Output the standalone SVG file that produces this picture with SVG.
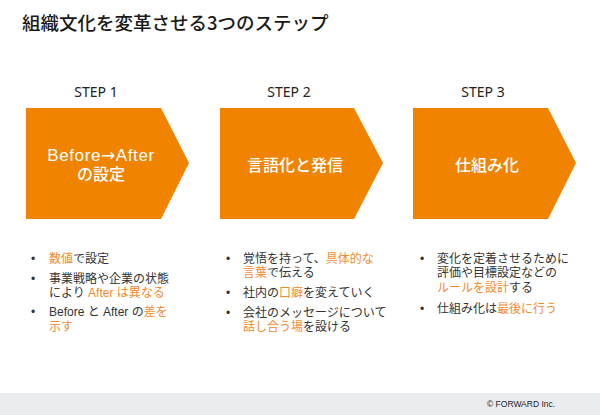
<svg xmlns="http://www.w3.org/2000/svg" width="600" height="415" viewBox="0 0 600 415">
<style>
text{font-family:"Liberation Sans","Noto Sans CJK JP",sans-serif;}
.title{font-size:18.5px;fill:#1a1a1a;font-weight:500;font-family:"Noto Sans CJK JP",sans-serif;}
.step{font-size:14px;fill:#222;text-anchor:middle;font-family:"Noto Sans","Noto Sans CJK JP",sans-serif;}
.arrow{fill:#f08300;}
.label{font-size:16px;fill:#fff;text-anchor:middle;font-weight:500;}
.b{font-size:12px;fill:#333;}
.dot{font-size:12px;fill:#333;}
.o{fill:#f28a2e;}
.foot{font-size:8.5px;fill:#222;}
.ar{font-family:"DejaVu Sans",sans-serif;}
</style>
<rect width="600" height="415" fill="#fff"/>
<text class="title" x="22" y="30">組織文化を変革させる3つのステップ</text>

<g id="step1">
<text class="step" x="96" y="97">STEP 1</text>
<polygon class="arrow" points="26,108 161,108 189,163 161,219 26,219"/>
<text class="label" x="101" y="161" style="font-size:17px;letter-spacing:0.6px">Before<tspan class="ar">→</tspan>After</text>
<text class="label" x="101" y="180">の設定</text>
</g>
<g id="step2">
<text class="step" x="289" y="97">STEP 2</text>
<polygon class="arrow" points="220,108 354,108 383,163 354,219 220,219"/>
<text class="label" x="295" y="171">言語化と発信</text>
</g>
<g id="step3">
<text class="step" x="483" y="97">STEP 3</text>
<polygon class="arrow" points="413,108 548,108 576,163 548,219 413,219"/>
<text class="label" x="487" y="171">仕組み化</text>
</g>

<g id="list1">
<text class="dot" x="31" y="263">•</text>
<text class="b" x="49" y="263"><tspan class="o">数値</tspan>で設定</text>
<text class="dot" x="31" y="283">•</text>
<text class="b" x="49" y="283">事業戦略や企業の状態<tspan x="49" dy="14">により </tspan><tspan class="o">After は異なる</tspan></text>
<text class="dot" x="31" y="316">•</text>
<text class="b" x="49" y="316">Before と After の<tspan class="o">差を</tspan><tspan class="o" x="49" dy="15">示す</tspan></text>
</g>
<g id="list2">
<text class="dot" x="226" y="263">•</text>
<text class="b" x="243" y="263">覚悟を持って、<tspan class="o">具体的な</tspan><tspan class="o" x="243" dy="14">言葉</tspan><tspan>で伝える</tspan></text>
<text class="dot" x="226" y="297">•</text>
<text class="b" x="243" y="297">社内の<tspan class="o">口癖</tspan>を変えていく</text>
<text class="dot" x="226" y="317">•</text>
<text class="b" x="243" y="317">会社のメッセージについて<tspan class="o" x="243" dy="14">話し合う場</tspan><tspan>を設ける</tspan></text>
</g>
<g id="list3">
<text class="dot" x="420" y="263">•</text>
<text class="b" x="437" y="263">変化を定着させるために<tspan x="437" dy="14">評価や目標設定などの</tspan><tspan class="o" x="437" dy="15">ルールを設計</tspan><tspan>する</tspan></text>
<text class="dot" x="420" y="313">•</text>
<text class="b" x="437" y="313">仕組み化は<tspan class="o">最後に行う</tspan></text>
</g>

<rect x="0" y="393" width="600" height="22" fill="#e9ecef"/>
<text class="foot" x="487" y="407">© FORWARD Inc.</text>
</svg>
